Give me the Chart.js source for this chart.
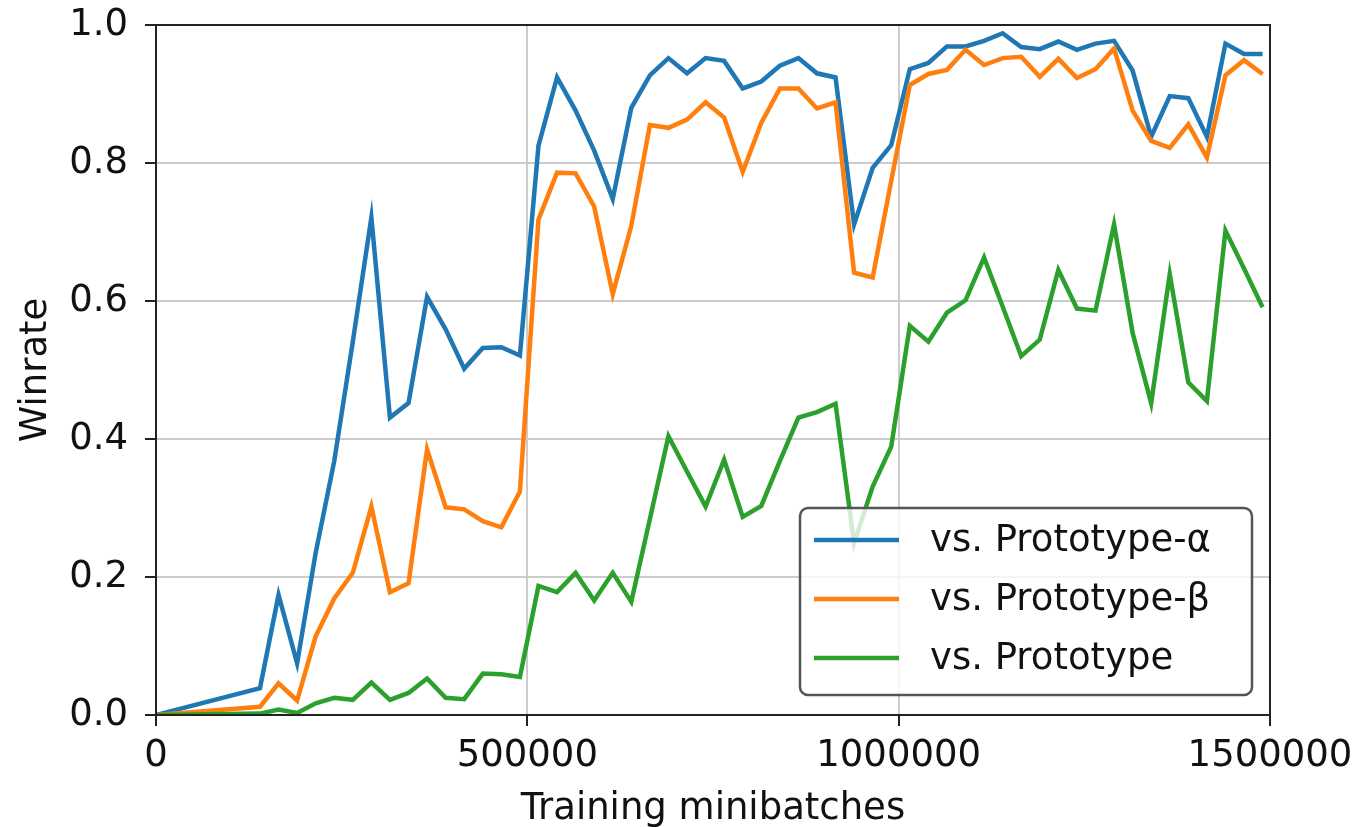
<!DOCTYPE html>
<html>
<head>
<meta charset="utf-8">
<script src="https://cdn.jsdelivr.net/npm/chart.js@4"></script>
<style>
  html, body { margin: 0; padding: 0; background: #fff; }
  canvas { display: block; }
</style>
</head>
<body>
<canvas id="winrate" width="1365" height="827"></canvas>
<script>
// training minibatches at each evaluation
const minibatches = [0, 140000, 165000, 190000, 215000, 240000, 265000, 290000, 315000, 340000,
  365000, 390000, 415000, 440000, 465000, 490000, 515000, 540000, 565000, 590000,
  615000, 640000, 665000, 690000, 715000, 740000, 765000, 790000, 815000, 840000,
  865000, 890000, 915000, 940000, 965000, 990000, 1015000, 1040000, 1065000, 1090000,
  1115000, 1140000, 1165000, 1190000, 1215000, 1240000, 1265000, 1290000, 1315000, 1340000,
  1365000, 1390000, 1415000, 1440000, 1465000, 1490000];

const vsAlpha = [0, 0.039, 0.174, 0.075, 0.235, 0.368, 0.541, 0.721, 0.431, 0.452,
  0.606, 0.559, 0.502, 0.532, 0.533, 0.521, 0.825, 0.924, 0.876, 0.818,
  0.748, 0.880, 0.927, 0.952, 0.930, 0.952, 0.948, 0.908, 0.918, 0.941,
  0.952, 0.930, 0.924, 0.711, 0.793, 0.826, 0.936, 0.945, 0.969, 0.969,
  0.977, 0.988, 0.968, 0.965, 0.976, 0.964, 0.973, 0.977, 0.934, 0.838,
  0.897, 0.894, 0.838, 0.973, 0.958, 0.958];

const vsBeta = [0, 0.012, 0.046, 0.021, 0.114, 0.169, 0.206, 0.302, 0.178, 0.191,
  0.385, 0.301, 0.298, 0.281, 0.272, 0.324, 0.718, 0.786, 0.785, 0.737,
  0.610, 0.709, 0.855, 0.851, 0.863, 0.888, 0.866, 0.787, 0.858, 0.908,
  0.908, 0.879, 0.888, 0.641, 0.634, 0.774, 0.913, 0.929, 0.935, 0.964,
  0.942, 0.952, 0.954, 0.925, 0.951, 0.923, 0.936, 0.966, 0.876, 0.832,
  0.822, 0.856, 0.808, 0.927, 0.949, 0.929];

const vsProto = [0, 0.002, 0.008, 0.003, 0.017, 0.025, 0.022, 0.047, 0.022, 0.032,
  0.053, 0.025, 0.023, 0.060, 0.059, 0.055, 0.187, 0.178, 0.206, 0.166,
  0.206, 0.164, 0.284, 0.404, 0.353, 0.302, 0.370, 0.287, 0.303, 0.368,
  0.431, 0.439, 0.451, 0.249, 0.331, 0.389, 0.564, 0.541, 0.583, 0.601,
  0.663, 0.592, 0.520, 0.544, 0.645, 0.589, 0.586, 0.711, 0.554, 0.452,
  0.639, 0.482, 0.455, 0.702, 0.647, 0.591];

const seriesLabels = ['vs. Prototype-\u03b1', 'vs. Prototype-\u03b2', 'vs. Prototype'];
const seriesColors = ['#1f77b4', '#ff7f0e', '#2ca02c'];
const xTicks = [0, 500000, 1000000, 1500000];
const yTicks = [0, 0.2, 0.4, 0.6, 0.8, 1.0];

const FONT = 'DejaVu Sans';

function pts(ys) {
  return minibatches.map((x, i) => ({x: x, y: ys[i]}));
}

// black frame on all four sides + matplotlib style legend box
const frameAndLegend = {
  id: 'frameAndLegend',
  afterDatasetsDraw(chart) {
    const ctx = chart.ctx;
    const a = chart.chartArea;
    ctx.save();
    ctx.strokeStyle = '#222';
    ctx.lineWidth = 2;
    ctx.strokeRect(a.left, a.top, a.right - a.left, a.bottom - a.top);

    // legend
    const w = 452, h = 187;
    const bx = a.right - 18 - w, by = a.bottom - 20 - h;
    ctx.beginPath();
    ctx.roundRect(bx, by, w, h, 8);
    ctx.fillStyle = 'rgba(255,255,255,0.8)';
    ctx.fill();
    ctx.strokeStyle = '#555';
    ctx.lineWidth = 2.5;
    ctx.stroke();

    ctx.font = '37px "' + FONT + '"';
    ctx.textBaseline = 'middle';
    ctx.textAlign = 'left';
    chart.data.datasets.forEach((ds, i) => {
      const yy = by + 32 + i * 59;
      ctx.strokeStyle = ds.borderColor;
      ctx.lineWidth = 4.5;
      ctx.beginPath();
      ctx.moveTo(bx + 14, yy);
      ctx.lineTo(bx + 99, yy);
      ctx.stroke();
      ctx.fillStyle = '#111';
      ctx.fillText(ds.label, bx + 130, yy + 1);
    });
    ctx.restore();
  }
};

new Chart(document.getElementById('winrate'), {
  type: 'line',
  data: {
    datasets: [
      {label: seriesLabels[0], data: pts(vsAlpha), borderColor: seriesColors[0], order: 3},
      {label: seriesLabels[1], data: pts(vsBeta), borderColor: seriesColors[1], order: 2},
      {label: seriesLabels[2], data: pts(vsProto), borderColor: seriesColors[2], order: 1}
    ]
  },
  options: {
    responsive: false,
    animation: false,
    devicePixelRatio: 1,
    layout: {padding: {left: 0, top: 25, right: 95, bottom: 0}},
    elements: {
      line: {borderWidth: 4.5, tension: 0, fill: false},
      point: {radius: 0}
    },
    plugins: {
      legend: {display: false},
      tooltip: {enabled: false}
    },
    scales: {
      x: {
        type: 'linear',
        min: 0,
        max: 1500000,
        afterFit(scale) {
          scale.height = 112;
          scale.paddingLeft = 0;
          scale.paddingRight = 0;
        },
        afterBuildTicks(scale) { scale.ticks = xTicks.map(v => ({value: v})); },
        ticks: {
          color: '#111',
          font: {family: FONT, size: 37},
          padding: 8,
          maxRotation: 0,
          callback: v => String(v)
        },
        grid: {color: '#cccccc', lineWidth: 2, tickColor: '#222', tickLength: 11, tickWidth: 2},
        border: {display: false},
        title: {
          display: true,
          text: 'Training minibatches',
          color: '#111',
          font: {family: FONT, size: 37, lineHeight: 0.95},
          padding: {top: 0, bottom: 0}
        }
      },
      y: {
        min: 0,
        max: 1,
        afterFit(scale) {
          scale.width = 156;
          scale.paddingTop = 0;
          scale.paddingBottom = 0;
        },
        afterBuildTicks(scale) { scale.ticks = yTicks.map(v => ({value: v})); },
        ticks: {
          color: '#111',
          font: {family: FONT, size: 37},
          padding: 17,
          callback: v => Number(v).toFixed(1)
        },
        grid: {color: '#cccccc', lineWidth: 2, tickColor: '#222', tickLength: 11, tickWidth: 2},
        border: {display: false},
        title: {
          display: true,
          text: 'Winrate',
          color: '#111',
          font: {family: FONT, size: 37},
          padding: {top: 14, bottom: 0}
        }
      }
    }
  },
  plugins: [frameAndLegend]
});
</script>
</body>
</html>
